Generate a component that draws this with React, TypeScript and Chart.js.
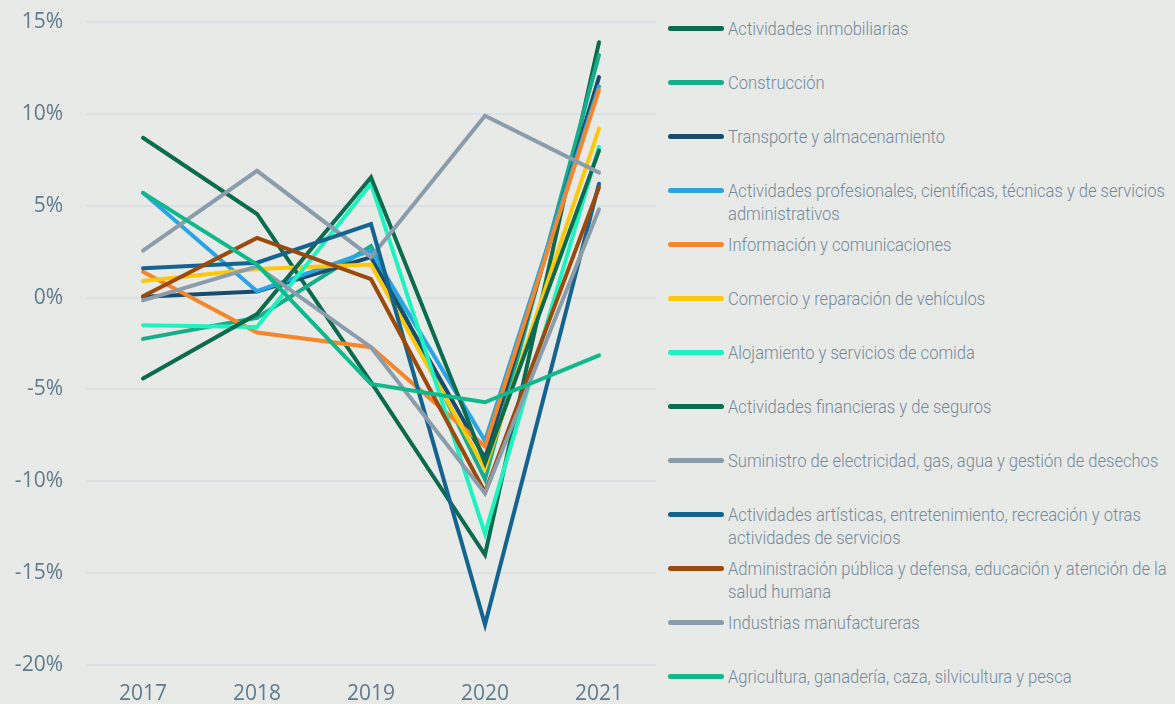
import React, { useEffect, useRef } from 'react';
import { Chart, registerables } from 'chart.js';

Chart.register(...registerables);

const years = ['2017', '2018', '2019', '2020', '2021'];

const yTickMin = -20;
const yTickMax = 15;
const yTickStep = 5;

const inmobiliarias = [8.7, 4.55, -4.6, -14.0, 13.9];
const construccion = [-2.25, -1.1, 2.8, -9.9, 13.2];
const transporte = [0.05, 0.33, 2.2, -8.75, 12.0];
const profesionales = [5.7, 0.35, 2.55, -7.8, 11.5];
const informacion = [1.4, -1.9, -2.7, -8.1, 11.3];
const comercio = [0.9, 1.55, 1.8, -9.3, 9.2];
const alojamiento = [-1.5, -1.6, 6.2, -12.85, 8.2];
const financieras = [-4.4, -0.9, 6.55, -9.0, 8.0];
const suministro = [2.55, 6.9, 2.2, 9.9, 6.8];
const artisticas = [1.6, 1.9, 4.0, -17.8, 6.2];
const administracion = [0.07, 3.25, 1.0, -10.6, 6.0];
const industrias = [-0.15, 1.7, -2.7, -10.65, 4.8];
const agricultura = [5.7, 1.8, -4.7, -5.7, -3.15];

const seriesLabels: string[][] = [
  ['Actividades inmobiliarias'],
  ['Construcción'],
  ['Transporte y almacenamiento'],
  ['Actividades profesionales, científicas, técnicas y de servicios', 'administrativos'],
  ['Información y comunicaciones'],
  ['Comercio y reparación de vehículos'],
  ['Alojamiento y servicios de comida'],
  ['Actividades financieras y de seguros'],
  ['Suministro de electricidad, gas, agua y gestión de desechos'],
  ['Actividades artísticas, entretenimiento, recreación y otras', 'actividades de servicios'],
  ['Administración pública y defensa, educación y atención de la', 'salud humana'],
  ['Industrias manufactureras'],
  ['Agricultura, ganadería, caza, silvicultura y pesca'],
];

const seriesValues = [
  inmobiliarias, construccion, transporte, profesionales, informacion, comercio,
  alojamiento, financieras, suministro, artisticas, administracion, industrias, agricultura,
];

const seriesColors = [
  '#0b6b4f', '#17ad8a', '#184d6d', '#2ba4e3', '#f5862b', '#ffc70a',
  '#1cf3bf', '#0b6b4f', '#8b9dab', '#15648f', '#9b4a0b', '#8b9dab', '#0fb98c',
];

const BG = '#e8eae7';
const AXIS_TEXT = '#5f7b8d';
const LEGEND_TEXT = '#74899a';

export default function App() {
  const ref = useRef<HTMLCanvasElement>(null);

  useEffect(() => {
    const n = seriesValues.length;
    const chart = new Chart(ref.current as HTMLCanvasElement, {
      type: 'line',
      data: {
        labels: years,
        datasets: seriesValues.map((vals, i) => ({
          label: seriesLabels[i].join(' '),
          data: vals,
          borderColor: seriesColors[i],
          backgroundColor: seriesColors[i],
          borderWidth: 4,
          pointRadius: 0,
          pointHoverRadius: 0,
          tension: 0,
          fill: false,
          borderCapStyle: 'round',
          borderJoinStyle: 'miter',
          order: n - i,
        })),
      },
      options: {
        animation: false,
        responsive: false,
        devicePixelRatio: 1,
        layout: { padding: { top: 22, right: 4, left: 0, bottom: 0 } },
        plugins: {
          legend: { display: false },
          tooltip: { enabled: false },
        },
        scales: {
          x: {
            type: 'category',
            offset: true,
            grid: { display: false, drawTicks: false },
            border: { display: false },
            ticks: {
              color: AXIS_TEXT,
              font: { family: "'Open Sans'", size: 21 },
              padding: 16,
              maxRotation: 0,
            },
            afterFit: (s: any) => {
              s.height = 39;
              s.paddingLeft = 0;
              s.paddingRight = 0;
            },
          },
          y: {
            min: yTickMin,
            max: yTickMax,
            grid: { color: '#dbe1e4', lineWidth: 2, drawTicks: false },
            border: { display: false },
            ticks: {
              stepSize: yTickStep,
              color: AXIS_TEXT,
              font: { family: "'Open Sans'", size: 21 },
              padding: 23,
              callback: (v: any) => `${v}%`,
            },
            afterFit: (s: any) => {
              s.width = 86;
              s.paddingTop = 0;
              s.paddingBottom = 0;
            },
          },
        },
      },
    });
    return () => chart.destroy();
  }, []);

  return (
    <div
      style={{
        position: 'absolute',
        left: 0,
        top: 0,
        width: 1175,
        height: 704,
        background: BG,
        overflow: 'hidden',
      }}
    >
      <canvas
        ref={ref}
        width={660}
        height={704}
        style={{ position: 'absolute', left: 0, top: 0, width: 660, height: 704 }}
      />
      {seriesLabels.map((lines, i) => {
        const cy = 28 + 54 * i;
        return (
          <div key={i}>
            <div
              style={{
                position: 'absolute',
                left: 668,
                top: cy - 2.5,
                width: 56,
                height: 5,
                borderRadius: 3,
                background: seriesColors[i],
              }}
            />
            {lines.map((t, j) => (
              <div
                key={j}
                style={{
                  position: 'absolute',
                  left: 728,
                  top: cy - 11 + j * 23,
                  height: 24,
                  lineHeight: '24px',
                  whiteSpace: 'nowrap',
                  fontFamily: 'Roboto, sans-serif',
                  fontSize: 18,
                  fontWeight: 300,
                  color: LEGEND_TEXT,
                  transform: 'scaleX(0.92)',
                  transformOrigin: 'left center',
                }}
              >
                {t}
              </div>
            ))}
          </div>
        );
      })}
    </div>
  );
}
